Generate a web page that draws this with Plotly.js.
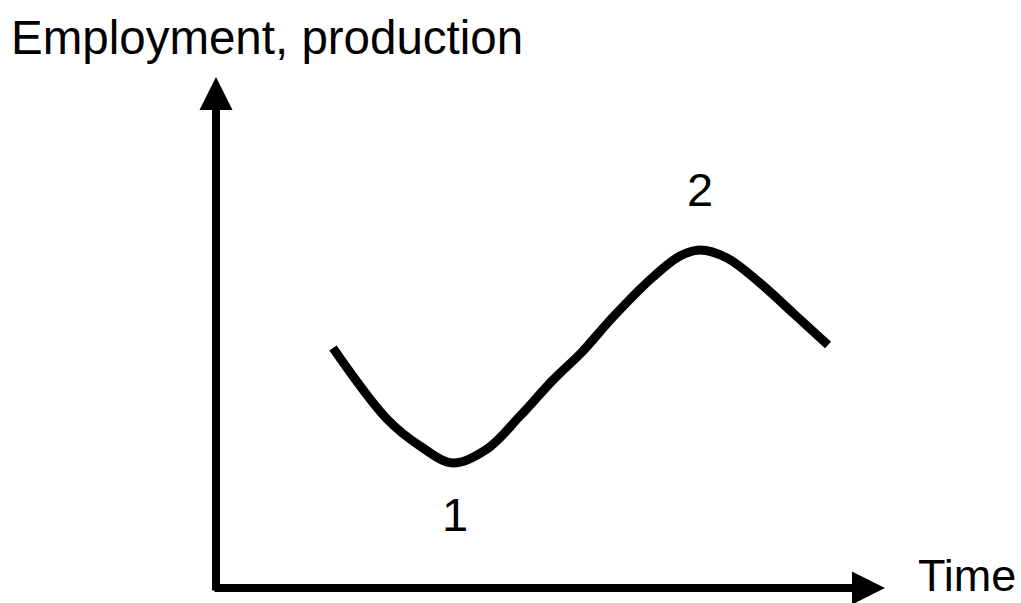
<!DOCTYPE html>
<html>
<head>
<meta charset="utf-8">
<script src="https://cdn.plot.ly/plotly-3.0.1.min.js"></script>
<style>
  html, body { margin: 0; padding: 0; background: #fff; }
  #chart { width: 1021px; height: 603px; }
</style>
</head>
<body>
<div id="chart"></div>
<script>
// business cycle curve (time, level)
const timeVals  = [1.17, 1.71, 2.04, 2.37, 2.71, 3.04, 3.37, 3.66, 3.97, 4.37, 4.64, 4.84, 5.11, 5.44, 5.77, 6.12];
const levelVals = [2.40, 1.69, 1.42, 1.25, 1.39, 1.72, 2.08, 2.36, 2.71, 3.11, 3.32, 3.38, 3.30, 3.05, 2.75, 2.43];

// turning point labels: 1 = trough, 2 = peak
const pointLabels = ["1", "2"];
const pointTime   = [2.39, 4.84];
const pointLevel  = [1.25, 3.38];

const yAxisTitle = "Employment, production";
const xAxisTitle = "Time";

const font = "Arial, 'Liberation Sans', sans-serif";

function drawChart() {
    const curve = {
        x: timeVals,
        y: levelVals,
        mode: "lines",
        line: {color: "black", width: 9, shape: "spline", smoothing: 1},
        hoverinfo: "skip"
    };

    const labels = {
        x: pointTime,
        y: pointLevel.map((v, i) => i === 0 ? v - 0.56 : v + 0.56), // below trough, above peak
        mode: "text",
        text: pointLabels,
        textfont: {family: font, size: 47, color: "black"},
        hoverinfo: "skip"
    };

    const layout = {
        width: 1021,
        height: 603,
        margin: {l: 0, r: 0, t: 0, b: 0},
        paper_bgcolor: "white",
        plot_bgcolor: "white",
        showlegend: false,
        xaxis: {range: [-2.16, 8.05], visible: false, fixedrange: true},
        yaxis: {range: [-0.15, 5.88], visible: false, fixedrange: true},
        annotations: [
            // axes drawn as arrows
            {x: 0, y: 5.11, ax: 0, ay: -0.04, xref: "x", yref: "y", axref: "x", ayref: "y",
             text: "", showarrow: true, arrowhead: 2, arrowsize: 0.825, arrowwidth: 8, arrowcolor: "black"},
            {x: 6.69, y: 0, ax: -0.03, ay: 0, xref: "x", yref: "y", axref: "x", ayref: "y",
             text: "", showarrow: true, arrowhead: 2, arrowsize: 0.825, arrowwidth: 8, arrowcolor: "black"},
            {x: 0.009, y: 0.985, xref: "paper", yref: "paper", xanchor: "left", yanchor: "top",
             text: yAxisTitle, showarrow: false, font: {family: font, size: 47.5, color: "black"}},
            {x: 0.997, y: 0, xref: "paper", yref: "paper", xanchor: "right", yanchor: "bottom",
             text: xAxisTitle, showarrow: false, font: {family: font, size: 45, color: "black"}}
        ]
    };

    Plotly.newPlot("chart", [curve, labels], layout, {displayModeBar: false, staticPlot: true});
}

drawChart();
</script>
</body>
</html>
